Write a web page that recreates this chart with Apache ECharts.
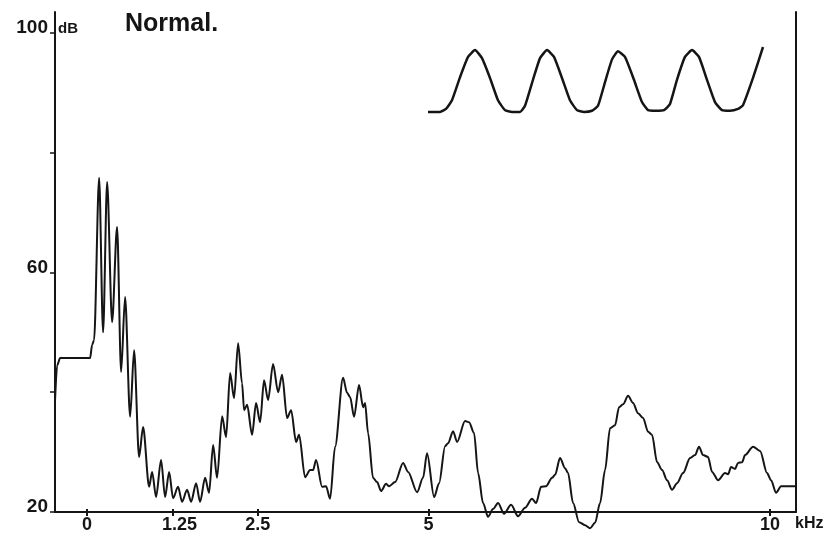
<!DOCTYPE html>
<html>
<head>
<meta charset="utf-8">
<script src="https://cdn.jsdelivr.net/npm/echarts@6/dist/echarts.min.js"></script>
<style>html,body{margin:0;padding:0;background:#fff;}#c{width:832px;height:545px;}</style>
</head>
<body>
<div id="c"></div>
<script>
// Spectrum: frequency (kHz) and level (dB)
var freqKHz = [-0.469,-0.439,-0.395,0.044,0.073,0.102,0.176,0.234,0.293,0.366,
0.439,0.498,0.556,0.630,0.688,0.761,0.820,0.908,0.952,1.010,
1.083,1.142,1.201,1.259,1.332,1.391,1.464,1.523,1.596,1.654,
1.728,1.786,1.845,1.903,1.977,2.035,2.094,2.152,2.211,2.269,
2.299,2.343,2.416,2.474,2.533,2.591,2.650,2.723,2.797,2.855,
2.928,2.987,3.060,3.104,3.192,3.265,3.309,3.353,3.441,3.499,
3.558,3.631,3.748,3.807,3.851,3.909,3.982,4.041,4.070,4.114,
4.187,4.246,4.304,4.378,4.422,4.510,4.627,4.700,4.832,4.919,
4.978,5.081,5.154,5.242,5.286,5.359,5.417,5.534,5.593,5.666,
5.725,5.798,5.871,5.944,6.018,6.105,6.208,6.310,6.413,6.515,
6.574,6.647,6.720,6.808,6.852,6.925,6.999,7.042,7.116,7.204,
7.291,7.365,7.438,7.511,7.584,7.657,7.731,7.789,7.848,7.921,
7.994,8.067,8.141,8.214,8.272,8.346,8.419,8.492,8.565,8.638,
8.726,8.829,8.902,8.960,9.019,9.092,9.151,9.239,9.341,9.385,
9.429,9.488,9.531,9.590,9.634,9.751,9.854,9.956,10.015,10.088,
10.161,10.381];
var levelDB = [38.7,44.5,45.7,45.7,47.9,48.7,75.8,50.0,75.1,51.7,
67.6,43.4,55.9,35.9,47.0,29.2,34.2,24.2,26.7,22.5,
28.7,22.5,26.7,22.3,24.2,21.7,23.7,21.7,24.8,21.7,
25.7,23.2,31.2,25.7,36.0,32.5,43.2,39.0,48.2,41.5,
37.0,37.9,32.9,38.2,35.0,42.0,38.7,44.7,40.0,42.9,
35.7,37.0,31.7,32.9,25.8,27.0,27.0,28.7,24.2,24.3,
22.2,30.9,42.4,39.9,39.2,35.9,41.2,37.5,38.2,33.2,
25.7,25.0,23.5,24.7,24.3,25.0,28.2,26.7,23.3,25.7,
29.8,22.5,24.8,31.0,31.5,33.5,31.7,35.2,35.0,33.2,
26.5,21.5,19.2,20.5,21.5,19.7,21.2,19.3,20.7,22.2,
21.5,24.2,24.3,25.7,26.2,29.0,27.3,26.5,21.5,18.3,
17.8,17.3,18.2,21.5,27.0,34.0,34.5,37.5,38.0,39.4,
38.2,36.5,35.7,33.4,32.9,28.3,27.0,25.3,23.7,24.8,
26.5,29.0,29.5,30.9,29.5,29.2,26.7,25.3,26.5,26.3,
27.5,27.2,28.2,28.3,29.5,30.9,30.2,26.5,25.3,23.2,
24.3,24.3];

// Inset waveform (time in pitch periods, relative amplitude)
var waveT = [0,0.167,0.25,0.333,0.444,0.556,0.653,0.75,0.861,0.972,
1.069,1.167,1.278,1.347,1.458,1.556,1.653,1.75,1.861,1.972,
2.069,2.167,2.278,2.361,2.458,2.556,2.639,2.736,2.861,2.972,
3.056,3.167,3.278,3.361,3.458,3.569,3.667,3.764,3.875,3.986,
4.083,4.194,4.306,4.375,4.514,4.653];
var waveA = [0,0,0.05,0.19,0.56,0.89,1.0,0.87,0.55,0.19,
0.03,0,0,0.1,0.52,0.87,1.0,0.89,0.55,0.19,
0.03,0,0.02,0.1,0.48,0.85,0.98,0.89,0.52,0.16,
0.03,0.02,0.03,0.13,0.52,0.89,1.0,0.89,0.52,0.16,
0.03,0.02,0.05,0.11,0.55,1.05];

// Axis ticks and labels
var xTicks = [0, 1.25, 2.5, 5, 10];
var yTicks = [20, 40, 60, 80, 100];
var yLabels = [20, 60, 100];

var FONT = '"Liberation Sans", Arial, Helvetica, sans-serif';
var INK = '#151515';

var spectrum = freqKHz.map(function (f, i) { return [f, levelDB[i]]; });
var wave = waveT.map(function (t, i) { return [t, waveA[i]]; });

var chart = echarts.init(document.getElementById('c'), null, {renderer: 'canvas'});
chart.setOption({
  animation: false,
  backgroundColor: '#fff',
  grid: [
    {left: 55, right: 36, top: 12, bottom: 33},
    {left: 428, top: 47, width: 335, height: 65}
  ],
  xAxis: [
    {
      type: 'value', gridIndex: 0, min: -0.47, max: 10.38, position: 'bottom',
      axisLine: {show: true, onZero: false, lineStyle: {color: INK, width: 2}},
      axisTick: {show: true, length: 4, customValues: xTicks, lineStyle: {color: INK, width: 2}},
      axisLabel: {
        show: true, customValues: xTicks, margin: 4,
        color: INK, fontFamily: FONT, fontWeight: 'bold', fontSize: 18,
        formatter: function (v) { return v === 1.25 ? '{s|1.25}' : String(v); },
        rich: {s: {padding: [0, 0, 0, 14], color: INK, fontFamily: FONT, fontWeight: 'bold', fontSize: 18}}
      },
      splitLine: {show: false}
    },
    {
      type: 'value', gridIndex: 0, min: -0.47, max: 10.38, position: 'bottom',
      axisLine: {show: false},
      axisTick: {show: true, inside: true, length: 3, customValues: xTicks, lineStyle: {color: INK, width: 2}},
      axisLabel: {show: false},
      splitLine: {show: false}
    },
    {
      type: 'value', gridIndex: 1, min: 0, max: 4.653, show: false
    }
  ],
  yAxis: [
    {
      type: 'value', gridIndex: 0, min: 20, max: 103.5, position: 'left',
      axisLine: {show: true, onZero: false, lineStyle: {color: INK, width: 2}},
      axisTick: {show: true, length: 5, customValues: yTicks, lineStyle: {color: INK, width: 1.5}},
      axisLabel: {
        show: true, customValues: yLabels, margin: 7,
        color: INK, fontFamily: FONT, fontWeight: 'bold', fontSize: 19,
        verticalAlign: 'bottom', lineHeight: 10
      },
      splitLine: {show: false}
    },
    {
      type: 'value', gridIndex: 0, min: 20, max: 103.5, position: 'right',
      axisLine: {show: true, onZero: false, lineStyle: {color: INK, width: 2}},
      axisTick: {show: false}, axisLabel: {show: false}, splitLine: {show: false}
    },
    {
      type: 'value', gridIndex: 1, min: 0, max: 1.05, show: false
    }
  ],
  series: [
    {
      type: 'line', xAxisIndex: 0, yAxisIndex: 0, data: spectrum,
      smooth: 0.3, smoothMonotone: 'x', showSymbol: false, clip: false,
      lineStyle: {color: INK, width: 2}
    },
    {
      type: 'line', xAxisIndex: 2, yAxisIndex: 2, data: wave,
      smooth: 0.15, showSymbol: false, clip: false,
      lineStyle: {color: INK, width: 2.5}
    }
  ],
  graphic: [
    {type: 'text', left: 125, top: 12, style: {text: 'Normal.', fill: INK, font: 'bold 25px ' + FONT}},
    {type: 'text', left: 58, top: 21, style: {text: 'dB', fill: INK, font: 'bold 15px ' + FONT}},
    {type: 'text', left: 795, top: 516, style: {text: 'kHz', fill: INK, font: 'bold 16px ' + FONT}}
  ]
});
</script>
</body>
</html>
